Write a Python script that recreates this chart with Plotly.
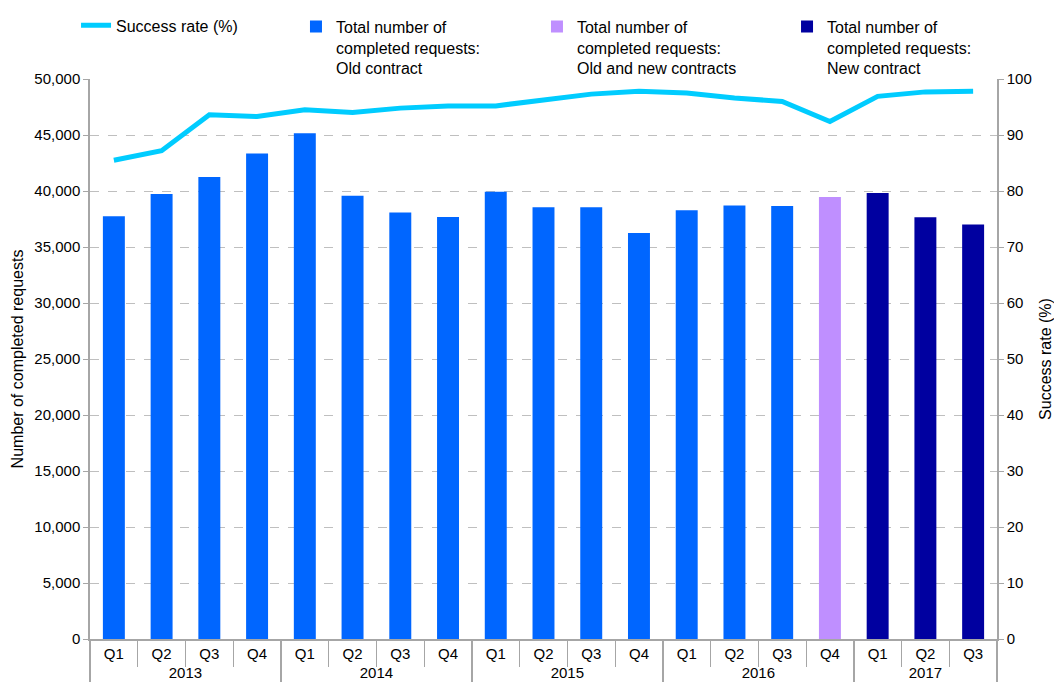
import plotly.graph_objects as go

years = ["2013"] * 4 + ["2014"] * 4 + ["2015"] * 4 + ["2016"] * 4 + ["2017"] * 3
quarters = ["Q1", "Q2", "Q3", "Q4"] * 4 + ["Q1", "Q2", "Q3"]
requests = [37750, 39730, 41260, 43350, 45150, 39580, 38080, 37670, 39940, 38560,
            38560, 36240, 38280, 38700, 38650, 39460, 39820, 37650, 37020]
success_rate = [85.5, 87.2, 93.6, 93.3, 94.5, 94.0, 94.8, 95.2, 95.2, 96.3,
                97.3, 97.8, 97.5, 96.6, 96.0, 92.4, 96.9, 97.7, 97.8]
contract = ["old"] * 15 + ["mixed"] + ["new"] * 3

series_names = {
    "old": "Total number of<br>completed requests:<br>Old contract",
    "mixed": "Total number of<br>completed requests:<br>Old and new contracts",
    "new": "Total number of<br>completed requests:<br>New contract",
}
series_colors = {"old": "#0066FF", "mixed": "#BF8FFF", "new": "#0000A0"}
legend_ids = {"old": "legend2", "mixed": "legend3", "new": "legend4"}

FONT = "Liberation Sans, Arial, sans-serif"
GRAY = "#A6A6A6"

fig = go.Figure()

fig.add_trace(go.Scatter(
    x=[years, quarters], y=success_rate, name="Success rate (%)",
    mode="lines", line=dict(color="#00CCFF", width=5),
    yaxis="y2", legend="legend", showlegend=True,
))

for key in ["old", "mixed", "new"]:
    idx = [i for i, c in enumerate(contract) if c == key]
    fig.add_trace(go.Bar(
        x=[[years[i] for i in idx], [quarters[i] for i in idx]],
        y=[requests[i] for i in idx],
        name=series_names[key],
        marker=dict(color=series_colors[key], line=dict(width=0)),
        legend=legend_ids[key], showlegend=True,
    ))

leg_common = dict(orientation="v", yanchor="top", xanchor="left",
                  font=dict(family=FONT, size=16, color="#000000"),
                  bgcolor="rgba(0,0,0,0)", valign="top", tracegroupgap=0)

# page body has an 8px margin in the browser; figure is shrunk/shifted so it fits the window
fig.update_layout(
    width=1054, height=678,
    margin=dict(l=82, r=65, t=71, b=47, autoexpand=False),
    paper_bgcolor="white", plot_bgcolor="white",
    showlegend=True,
    font=dict(family=FONT, size=15, color="#000000"),
    barmode="relative", bargap=0.54,
    legend=dict(x=-0.0154, y=1.126, **leg_common),
    legend2=dict(x=0.2271, y=1.124, **leg_common),
    legend3=dict(x=0.4928, y=1.124, **leg_common),
    legend4=dict(x=0.7685, y=1.124, **leg_common),
    xaxis=dict(
        type="multicategory", automargin=False,
        showline=True, linecolor=GRAY, linewidth=1.5,
        ticks="outside", tickson="boundaries", ticklen=26, tickcolor=GRAY,
        showdividers=True, dividercolor=GRAY, dividerwidth=1.5,
        showgrid=False, tickfont=dict(size=15),
    ),
    yaxis=dict(
        range=[0, 50000], dtick=5000, tickformat=",",
        showline=True, linecolor=GRAY, linewidth=1.5,
        ticks="outside", ticklen=5, tickcolor=GRAY,
        showgrid=True, gridcolor="#BFBFBF", griddash="dash", gridwidth=1,
        zeroline=False, automargin=False,
        title=dict(text="Number of completed requests", font=dict(size=16), standoff=7),
        tickfont=dict(size=15),
    ),
    yaxis2=dict(
        range=[0, 100], dtick=10, overlaying="y", side="right",
        showline=True, linecolor=GRAY, linewidth=1.5,
        ticks="outside", ticklen=5, tickcolor=GRAY,
        showgrid=False, zeroline=False, automargin=False,
        title=dict(text="Success rate (%)", font=dict(size=16), standoff=9),
        tickfont=dict(size=15),
    ),
)

fig.write_html("out.html")
